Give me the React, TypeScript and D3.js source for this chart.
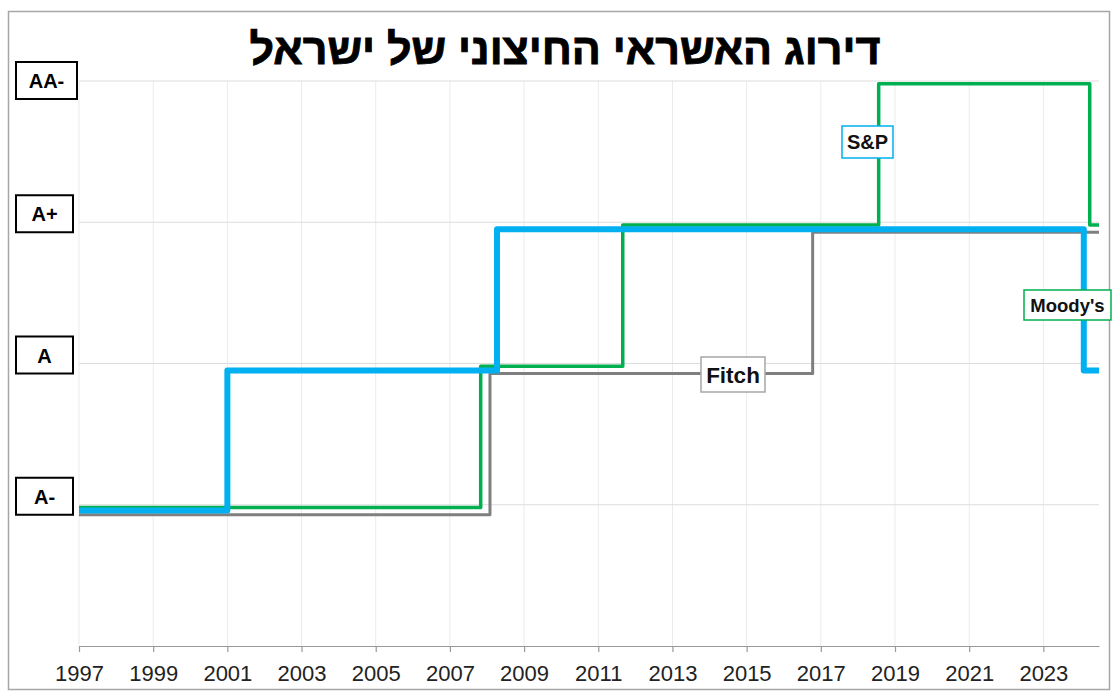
import { useEffect, useRef } from "react";
import * as d3 from "d3";

const TITLE = "דירוג האשראי החיצוני של ישראל";

const RATINGS = ["A-", "A", "A+", "AA-"];
const RATING_LEVELS = [1, 2, 3, 4];

const YEAR_TICKS = [1997, 1999, 2001, 2003, 2005, 2007, 2009, 2011, 2013, 2015, 2017, 2019, 2021, 2023];

// step dates (decimal years) and rating level (slightly offset so lines don't overlap)
const spDates = [1997, 2007.83, 2011.66, 2018.56, 2024.25, 2024.5];
const spValues = [0.98, 1.98, 2.98, 3.98, 2.98, 2.98];

const moodysDates = [1997, 2001.0, 2008.27, 2024.09, 2024.5];
const moodysValues = [0.96, 1.95, 2.95, 1.95, 1.95];

const fitchDates = [1997, 2008.08, 2016.78, 2024.5];
const fitchValues = [0.93, 1.93, 2.93, 2.93];

export default function App() {
  const ref = useRef<SVGSVGElement>(null);

  useEffect(() => {
    const w = 1113, h = 692;
    const svg = d3.select(ref.current!).attr("width", w).attr("height", h);
    svg.selectAll("*").remove();

    const font = "'Liberation Sans', Arial, sans-serif";
    const x = d3.scaleLinear().domain([1997, 2024.5]).range([79, 1099]);
    const y = d3.scaleLinear().domain([0, 4]).range([646, 81]);

    svg.append("rect").attr("x", 0).attr("y", 0).attr("width", w).attr("height", h).attr("fill", "#fff");
    svg.append("rect").attr("x", 8.5).attr("y", 11.5).attr("width", 1101).attr("height", 678)
      .attr("fill", "none").attr("stroke", "#a6a6a6").attr("stroke-width", 1.5);

    // grid
    svg.append("g").selectAll("line").data(YEAR_TICKS).join("line")
      .attr("x1", d => x(d)).attr("x2", d => x(d)).attr("y1", y(4)).attr("y2", y(0))
      .attr("stroke", "#ebebeb").attr("stroke-width", 1);
    svg.append("g").selectAll("line").data(RATING_LEVELS).join("line")
      .attr("x1", x(1997)).attr("x2", x(2024.5)).attr("y1", d => y(d)).attr("y2", d => y(d))
      .attr("stroke", "#dcdcdc").attr("stroke-width", 1);

    // x axis
    const ax = svg.append("g").attr("transform", `translate(0,${y(0)})`)
      .call(d3.axisBottom(x).tickValues(YEAR_TICKS).tickFormat(d3.format("d")).tickSize(6).tickSizeOuter(0).tickPadding(13));
    ax.select(".domain").attr("stroke", "#999").attr("stroke-width", 1.2);
    ax.selectAll(".tick line").attr("stroke", "#999").attr("stroke-width", 1.2);
    ax.selectAll(".tick text").attr("font-family", font).attr("font-size", 22).attr("fill", "#222");

    // lines
    const line = d3.line<[number, number]>().x(d => x(d[0])).y(d => y(d[1])).curve(d3.curveStepAfter);
    const series = [
      { dates: fitchDates, values: fitchValues, color: "#7f7f7f", width: 3 },
      { dates: spDates, values: spValues, color: "#00b050", width: 3.5 },
      { dates: moodysDates, values: moodysValues, color: "#00b0f0", width: 6 },
    ];
    series.forEach(s => {
      svg.append("path")
        .datum(s.dates.map((d, i) => [d, s.values[i]] as [number, number]))
        .attr("d", line).attr("fill", "none").attr("stroke", s.color)
        .attr("stroke-width", s.width).attr("stroke-linejoin", "round");
    });

    // rating boxes
    const rb = svg.append("g").selectAll("g").data(RATINGS).join("g")
      .attr("transform", (_, i) => `translate(16,${y(RATING_LEVELS[i]) - (i === 3 ? 19 : 27)})`);
    rb.append("rect").attr("width", (_, i) => (i === 3 ? 61 : 57)).attr("height", 37)
      .attr("fill", "#fff").attr("stroke", "#000").attr("stroke-width", 2);
    rb.append("text").text(d => d).attr("x", (_, i) => (i === 3 ? 30.5 : 28.5)).attr("y", 26)
      .attr("text-anchor", "middle").attr("font-family", font).attr("font-weight", "bold")
      .attr("font-size", 20).attr("fill", "#000");

    // series labels
    const labels = [
      { text: "S&P", x0: 842, y0: 126, w: 51, h: 32, color: "#00b0f0", size: 20 },
      { text: "Moody's", x0: 1024, y0: 290, w: 87, h: 30, color: "#00b050", size: 18.5 },
      { text: "Fitch", x0: 701, y0: 357, w: 64, h: 35, color: "#a6a6a6", size: 22.5 },
    ];
    labels.forEach(l => {
      const g = svg.append("g").attr("transform", `translate(${l.x0},${l.y0})`);
      g.append("rect").attr("width", l.w).attr("height", l.h).attr("fill", "#fff")
        .attr("stroke", l.color).attr("stroke-width", 1.5);
      g.append("text").text(l.text).attr("x", l.w / 2).attr("y", l.h / 2 + l.size * 0.36)
        .attr("text-anchor", "middle").attr("font-family", font).attr("font-weight", "bold")
        .attr("font-size", l.size).attr("fill", "#111");
    });

    // title
    svg.append("text").text(TITLE).attr("x", 565).attr("y", 64)
      .attr("text-anchor", "middle").attr("direction", "rtl").attr("font-family", font)
      .attr("font-weight", "bold").attr("font-size", 43).attr("fill", "#000")
      .attr("stroke", "#000").attr("stroke-width", 0.9);
  }, []);

  return <svg ref={ref} style={{ position: "absolute", left: 0, top: 0, display: "block" }} />;
}
